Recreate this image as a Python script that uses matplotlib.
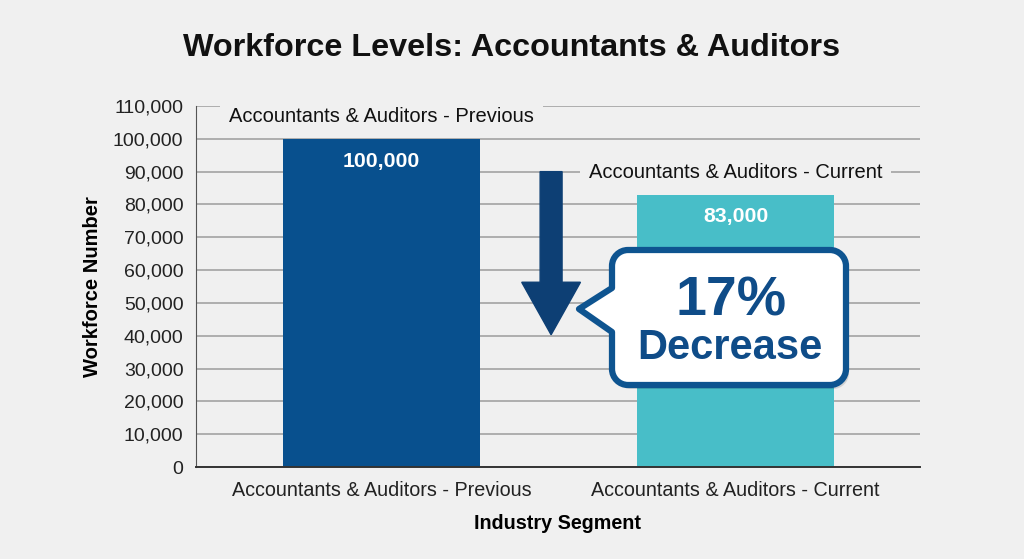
import matplotlib
matplotlib.use("Agg")
import matplotlib.pyplot as plt
from matplotlib.patches import FancyArrow, PathPatch
from matplotlib.path import Path
from matplotlib.ticker import FuncFormatter

# data
categories = ["Accountants & Auditors - Previous", "Accountants & Auditors - Current"]
values = [100000, 83000]
y_ticks = list(range(0, 110001, 10000))
pct_change = round((values[0] - values[1]) / values[0] * 100)

bar_colors = ["#08508e", "#48bec8"]
bg = "#f0f0f0"
navy = "#0d3f74"
callout_blue = "#0e5490"

plt.rcParams["font.family"] = ["Liberation Sans", "DejaVu Sans"]

fig = plt.figure(figsize=(10.24, 5.59), dpi=100, facecolor=bg)
ax = fig.add_axes([196 / 1024, 92 / 559, 724 / 1024, 361 / 559], facecolor=bg)

x = list(range(len(categories)))
ax.bar(x, values, width=0.556, color=bar_colors, zorder=2)

ax.set_xlim(-0.524, 1.521)
ax.set_ylim(0, 110000)
ax.set_yticks(y_ticks)
ax.yaxis.set_major_formatter(FuncFormatter(lambda v, p: f"{int(v):,}"))
ax.set_xticks(x)
ax.set_xticklabels(categories)
ax.tick_params(axis="y", length=0, pad=9, labelsize=14, labelcolor="#222222")
ax.tick_params(axis="x", length=0, pad=10, labelsize=14.2, labelcolor="#222222")
ax.grid(axis="y", color="#9c9c9c", linewidth=1.1, zorder=0)
ax.set_axisbelow(True)
for s in ["top", "right"]:
    ax.spines[s].set_visible(False)
ax.spines["left"].set_color("#555555")
ax.spines["bottom"].set_color("#333333")
ax.spines["bottom"].set_linewidth(1.4)

ax.set_ylabel("Workforce Number", fontsize=14.5, fontweight="bold", labelpad=8)
ax.set_xlabel("Industry Segment", fontsize=14.2, fontweight="bold", labelpad=10)

# value labels inside bars
for xi, v in zip(x, values):
    ax.annotate(f"{v:,}", (xi, v), xytext=(0, -16), textcoords="offset points",
                ha="center", va="center", color="white", fontsize=15.3,
                fontweight="bold", zorder=4)

# series labels above bars (masking grid lines)
label_y = [106700, 89800]
for xi, ly, name in zip(x, label_y, categories):
    ax.text(xi, ly, name, ha="center", va="center", fontsize=14.5, color="#111111",
            zorder=4, bbox=dict(boxstyle="square,pad=0.45", fc=bg, ec="none"))

# down arrow between bars
arrow_x = 0.479
arrow_top = 90000
arrow_tip = 40300
ax.add_patch(FancyArrow(arrow_x, arrow_top, 0, arrow_tip - arrow_top, width=0.062,
                        head_width=0.166, head_length=16000,
                        length_includes_head=True, color=navy, zorder=5))

fig.text(0.5, 1 - 48 / 559, "Workforce Levels: Accountants & Auditors",
         ha="center", va="center", fontsize=23.3, fontweight="bold", color="#111111")

# callout box drawn in pixel space
ov = fig.add_axes([0, 0, 1, 1], facecolor="none", zorder=6)
ov.set_xlim(0, 1024)
ov.set_ylim(559, 0)
ov.axis("off")


def callout_path(x0, x1, y0, y1, r, tip, base_top, base_bot):
    k = 0.5523 * r
    verts = [
        (x0 + r, y0), (x1 - r, y0),
        (x1 - r + k, y0), (x1, y0 + r - k), (x1, y0 + r),
        (x1, y1 - r),
        (x1, y1 - r + k), (x1 - r + k, y1), (x1 - r, y1),
        (x0 + r, y1),
        (x0 + r - k, y1), (x0, y1 - r + k), (x0, y1 - r),
        (x0, base_bot), tip, (x0, base_top),
        (x0, y0 + r),
        (x0, y0 + r - k), (x0 + r - k, y0), (x0 + r, y0),
        (x0 + r, y0),
    ]
    codes = [Path.MOVETO, Path.LINETO,
             Path.CURVE4, Path.CURVE4, Path.CURVE4,
             Path.LINETO,
             Path.CURVE4, Path.CURVE4, Path.CURVE4,
             Path.LINETO,
             Path.CURVE4, Path.CURVE4, Path.CURVE4,
             Path.LINETO, Path.LINETO, Path.LINETO,
             Path.LINETO,
             Path.CURVE4, Path.CURVE4, Path.CURVE4,
             Path.CLOSEPOLY]
    return Path(verts, codes)


shadow = callout_path(615, 849, 254, 389, 16, (582, 313), 292, 336)
ov.add_patch(PathPatch(shadow, fc="#000000", ec="none", alpha=0.12))
box = callout_path(612, 846, 250, 385, 16, (579, 309), 288, 332)
ov.add_patch(PathPatch(box, fc="white", ec=callout_blue, lw=4.5, joinstyle="round"))
ov.text(731, 301, f"{pct_change}%", ha="center", va="center", fontsize=40,
        fontweight="bold", color="#0f4c88")
ov.text(730, 348, "Decrease", ha="center", va="center", fontsize=30,
        fontweight="bold", color="#0f4c88")

fig.savefig("out.png", dpi=100, facecolor=bg)
